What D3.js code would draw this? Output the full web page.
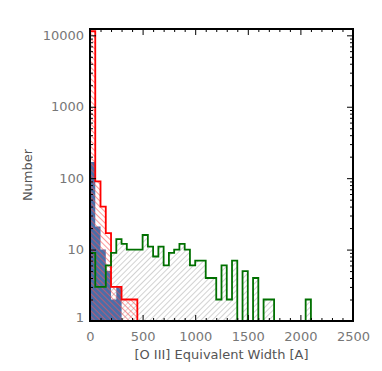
<!DOCTYPE html>
<html>
<head>
<meta charset="utf-8">
<script src="https://cdn.jsdelivr.net/npm/d3@7"></script>
<style>
  html, body { margin: 0; padding: 0; background: #fff; }
  svg { display: block; }
</style>
</head>
<body>
<div id="chart"></div>
<script>
const W = 382, H = 371;
const PLOT = { left: 90, right: 353, top: 29, bottom: 321 };

// ── Data (counts per 50 A bin, starting at 0) ──
const BIN_WIDTH   = 50;
const redCounts   = [11400, 90, 40, 17, 3, 3, 2, 2, 2];
const blueCounts  = [169, 21, 10, 5, 2, 3];
const greenCounts = [
  9, 3, 3, 6, 9, 14, 12, 10, 10, 10,
  16, 11, 8, 11, 6, 9, 10, 12, 10, 6,
  7, 7, 4, 4, 2, 6, 2, 7, 0, 5,
  0, 4, 0, 2, 2, 0, 0, 0, 0, 0,
  0, 2
];

const xDomain     = [0, 2500];
const yDomain     = [1, 12260];
const xMajorTicks = [0, 500, 1000, 1500, 2000, 2500];
const xMinorTicks = [100, 200, 300, 400, 600, 700, 800, 900, 1100, 1200, 1300, 1400,
                     1600, 1700, 1800, 1900, 2100, 2200, 2300, 2400];
const yMajorTicks = [1, 10, 100, 1000, 10000];
const yMinorTicks = [2, 3, 4, 5, 6, 7, 8, 9, 20, 30, 40, 50, 60, 70, 80, 90,
                     200, 300, 400, 500, 600, 700, 800, 900,
                     2000, 3000, 4000, 5000, 6000, 7000, 8000, 9000];
const xTitle = "[O III] Equivalent Width [A]";
const yTitle = "Number";

// ── Scales ──
const x = d3.scaleLinear().domain(xDomain).range([PLOT.left, PLOT.right]);
const y = d3.scaleLog().domain(yDomain).range([PLOT.bottom, PLOT.top]);

const svg = d3.select("#chart").append("svg")
  .attr("width", W).attr("height", H);

// ── Hatch patterns ──
const defs = svg.append("defs");
function hatch(id, color, angle, gap) {
  const p = defs.append("pattern")
    .attr("id", id)
    .attr("patternUnits", "userSpaceOnUse")
    .attr("width", gap).attr("height", gap)
    .attr("patternTransform", `rotate(${angle})`);
  p.append("line")
    .attr("x1", 0).attr("y1", 0).attr("x2", 0).attr("y2", gap)
    .attr("stroke", color).attr("stroke-width", 1.2);
}
hatch("hatch-gray", "#b4b4b4", 45, 4);
hatch("hatch-red", "#ff5050", -45, 4);

// step outline for a histogram
function stepPoints(counts) {
  const pts = [[x(0), y(1)]];
  counts.forEach((c, i) => {
    const yy = y(Math.max(c, 1));
    pts.push([x(i * BIN_WIDTH), yy], [x((i + 1) * BIN_WIDTH), yy]);
  });
  pts.push([x(counts.length * BIN_WIDTH), y(1)]);
  return pts;
}
const line = d3.line();

// ── Fills ──
svg.append("path").attr("d", line(stepPoints(greenCounts)) + "Z")
  .attr("fill", "url(#hatch-gray)");
svg.append("path").attr("d", line(stepPoints(blueCounts)) + "Z")
  .attr("fill", "#4a6ea8");
svg.append("path").attr("d", line(stepPoints(redCounts)) + "Z")
  .attr("fill", "url(#hatch-red)");

// ── Outlines ──
svg.append("path").attr("d", line(stepPoints(redCounts)))
  .attr("fill", "none").attr("stroke", "#ff0000").attr("stroke-width", 1.8);
svg.append("path").attr("d", line(stepPoints(greenCounts)))
  .attr("fill", "none").attr("stroke", "#007000").attr("stroke-width", 1.8);

// ── Axes (ticks point inward) ──
function drawAxis(gen, tx, ty, size, values, labels, pad) {
  const g = svg.append("g").attr("transform", `translate(${tx},${ty})`)
    .call(gen.tickValues(values).tickSize(size).tickPadding(pad || 8)
      .tickFormat(labels ? d3.format("d") : () => ""));
  g.select(".domain").remove();
  g.selectAll(".tick line").attr("stroke", "#000").attr("stroke-width", 1);
  g.selectAll(".tick text")
    .style("font-family", "DejaVu Sans, sans-serif")
    .style("font-size", "13px")
    .attr("fill", "#777");
  return g;
}

drawAxis(d3.axisBottom(x), 0, PLOT.bottom, -6, xMajorTicks, true, 11);
drawAxis(d3.axisBottom(x), 0, PLOT.bottom, -3, xMinorTicks, false);
drawAxis(d3.axisTop(x), 0, PLOT.top, -6, xMajorTicks, false);
drawAxis(d3.axisTop(x), 0, PLOT.top, -3, xMinorTicks, false);
const yAxisG = drawAxis(d3.axisLeft(y), PLOT.left, 0, -6, yMajorTicks, true, 6);
drawAxis(d3.axisLeft(y), PLOT.left, 0, -3, yMinorTicks, false);
drawAxis(d3.axisRight(y), PLOT.right, 0, -6, yMajorTicks, false);
drawAxis(d3.axisRight(y), PLOT.right, 0, -3, yMinorTicks, false);

// bottom label sits a little above its tick, like the original
yAxisG.selectAll(".tick text").filter(d => d === 1).attr("y", -4);

// ── Frame ──
svg.append("rect")
  .attr("x", PLOT.left).attr("y", PLOT.top)
  .attr("width", PLOT.right - PLOT.left).attr("height", PLOT.bottom - PLOT.top)
  .attr("fill", "none").attr("stroke", "#000").attr("stroke-width", 2);

// ── Titles ──
svg.append("text")
  .attr("x", (PLOT.left + PLOT.right) / 2).attr("y", 359)
  .attr("text-anchor", "middle")
  .style("font-family", "DejaVu Sans, sans-serif").style("font-size", "13px")
  .attr("fill", "#555")
  .text(xTitle);

svg.append("text")
  .attr("transform", `translate(32,${(PLOT.top + PLOT.bottom) / 2}) rotate(-90)`)
  .attr("text-anchor", "middle")
  .style("font-family", "DejaVu Sans, sans-serif").style("font-size", "13px")
  .attr("fill", "#555")
  .text(yTitle);
</script>
</body>
</html>
